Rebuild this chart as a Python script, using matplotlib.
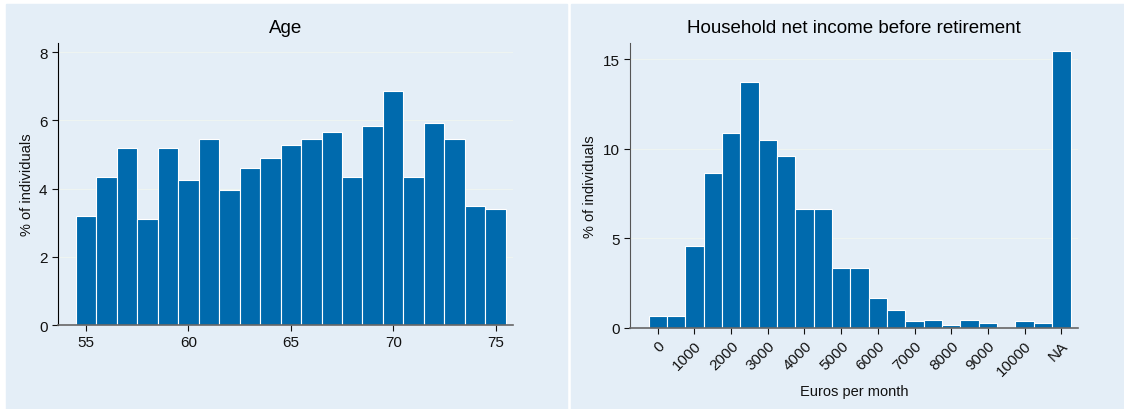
import matplotlib.pyplot as plt
from matplotlib.patches import Rectangle

plt.rcParams['font.family'] = ['Liberation Sans', 'DejaVu Sans']

# Age distribution, one bar per year of age
age_years = list(range(55, 76))
age_pct = [3.19, 4.34, 5.19, 3.10, 5.19, 4.25, 5.46, 3.96, 4.60, 4.90, 5.28,
           5.46, 5.66, 4.34, 5.84, 6.87, 4.34, 5.93, 5.46, 3.49, 3.40]

# Household income, 500-euro bins; NA drawn as its own bar at the end
income_bins = [0, 500, 1000, 1500, 2000, 2500, 3000, 3500, 4000, 4500, 5000,
               5500, 6000, 6500, 7000, 7500, 8000, 8500, 9000, 9500, 10000,
               10500, 11000]
income_pct = [0.65, 0.65, 4.58, 8.66, 10.9, 13.75, 10.51, 9.61, 6.65, 6.65,
              3.35, 3.35, 1.68, 1.0, 0.39, 0.45, 0.17, 0.45, 0.28, 0.0, 0.39,
              0.28, 15.43]
income_ticks = [0, 1000, 2000, 3000, 4000, 5000, 6000, 7000, 8000, 9000,
                10000, 11000]
income_ticklabels = ['0', '1000', '2000', '3000', '4000', '5000', '6000',
                     '7000', '8000', '9000', '10000', 'NA']

W, H = 1124, 410
bg = '#e4eef7'
bar_color = '#006aad'
grid_color = '#eef4f1'

fig = plt.figure(figsize=(W / 100, H / 100), dpi=100)

# panel backgrounds
for x0, x1 in [(6, 567), (571, 1124)]:
    fig.patches.append(Rectangle((x0 / W, 0), (x1 - x0) / W, (H - 5) / H,
                                 transform=fig.transFigure, color=bg, zorder=-1))


def px_axes(left, top, right, bottom):
    return fig.add_axes([left / W, 1 - bottom / H, (right - left) / W,
                         (bottom - top) / H])


def style(ax, ytick_vals):
    ax.set_facecolor(bg)
    for s in ['top', 'right']:
        ax.spines[s].set_visible(False)
    ax.spines['bottom'].set_color('#666666')
    ax.spines['bottom'].set_linewidth(1.2)
    ax.set_yticks(ytick_vals)
    for y in ytick_vals[1:]:
        ax.axhline(y, color=grid_color, lw=0.8, zorder=0)
    ax.tick_params(labelsize=11, colors='#111111', length=4)
    ax.set_ylabel('% of individuals', fontsize=10.5, color='#111111')


# Age panel
ax1 = px_axes(58, 44, 513, 326)
style(ax1, [0, 2, 4, 6, 8])
ax1.bar(age_years, age_pct, width=1.0, color=bar_color, edgecolor='white',
        linewidth=0.8, zorder=2)
ax1.set_xlim(53.63, 75.85)
ax1.set_ylim(0, 8.27)
ax1.set_xticks([55, 60, 65, 70, 75])
ax1.spines['left'].set_color('black')
ax1.set_title('Age', fontsize=13.5, pad=8)

# Income panel
ax2 = px_axes(630, 44, 1078, 329)
style(ax2, [0, 5, 10, 15])
ax2.bar(income_bins, income_pct, width=500, color=bar_color,
        edgecolor='white', linewidth=0.8, zorder=2)
ax2.set_xlim(-755, 11454)
ax2.set_ylim(0, 15.9)
ax2.set_xticks(income_ticks)
ax2.set_xticklabels(income_ticklabels, rotation=45, ha='right',
                    rotation_mode='anchor')
ax2.spines['left'].set_color('#555555')
ax2.set_xlabel('Euros per month', fontsize=10.5, color='#111111', labelpad=4)
ax2.set_title('Household net income before retirement', fontsize=13.5, pad=8)

fig.savefig('out.png', dpi=100)
